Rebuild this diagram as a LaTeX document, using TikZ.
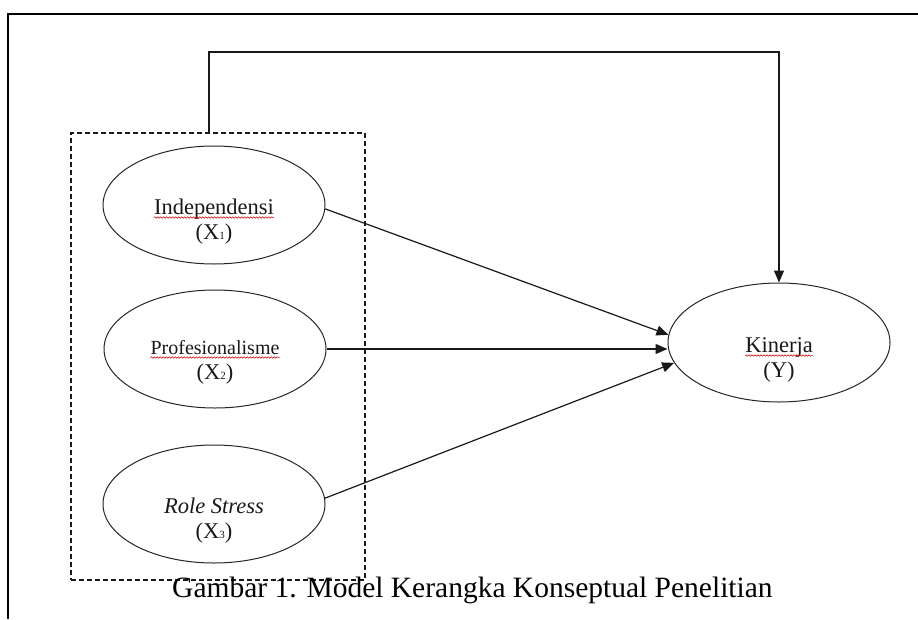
\documentclass[tikz,border=0pt]{standalone}
\usepackage{fontspec}
\setmainfont{Liberation Serif}
\usetikzlibrary{arrows.meta,shapes.geometric,decorations.pathmorphing}
\newcommand{\smallsub}[1]{\raisebox{-0.5pt}{\fontsize{11}{11}\selectfont #1}}
\begin{document}
\begin{tikzpicture}[x=1pt,y=-1pt,
  oval/.style={draw=black!85, line width=1pt, ellipse, minimum width=222pt, minimum height=118pt, inner sep=0pt},
  lbl/.style={font=\fontsize{22.5}{26}\selectfont, inner sep=0pt, anchor=base, text=black!90},
  conn/.style={draw=black!90, line width=1.2pt, -{Triangle[length=12pt,width=10pt]}},
  squig/.style={draw=red!80!black, line width=0.5pt, decorate, decoration={snake, amplitude=0.8pt, segment length=3pt}},
  dashbox/.style={draw=black!90, line width=1.1pt, dash pattern=on 5pt off 3pt, minimum width=294pt, minimum height=447pt, inner sep=0pt}]
\useasboundingbox (0,0) rectangle (918,619);
% outer frame
\draw[line width=2pt] (8,619) -- (8,14) -- (918,14);
% dashed group box
\node[dashbox] (box) at (218,356.5) {};
% ellipses
\node[oval] (e1) at (214,205) {};
\node[oval] (e2) at (215,349) {};
\node[oval] (e3) at (214,504) {};
\node[oval, minimum height=119pt] (k) at (779,342.5) {};
% labels
\node[lbl] (t1a) at ([yshift=-9pt]e1.center) {Independensi};
\node[lbl] (t1b) at ([yshift=-34pt]e1.center) {(X\smallsub{1})};
\node[lbl, font=\fontsize{20}{24}\selectfont] (t2a) at ([yshift=-5pt]e2.center) {Profesionalisme};
\node[lbl] (t2b) at ([yshift=-30pt]e2.center) {(X\smallsub{2})};
\node[lbl] (t3a) at ([yshift=-9pt]e3.center) {\itshape Role Stress};
\node[lbl] (t3b) at ([yshift=-34pt]e3.center) {(X\smallsub{3})};
\node[lbl] (tka) at ([yshift=-9.5pt]k.center) {Kinerja};
\node[lbl] (tkb) at ([yshift=-34.5pt]k.center) {(Y)};
% spell-check squiggles
\draw[squig] ([yshift=-3.5pt]t1a.base west) -- ([yshift=-3.5pt]t1a.base east);
\draw[squig] ([yshift=-3.5pt]t2a.base west) -- ([yshift=-3.5pt]t2a.base east);
\draw[squig] ([yshift=-3.5pt]tka.base west) -- ([yshift=-3.5pt]tka.base east);
% connectors
\draw[conn] (e1.-2) -- (k.176);
\draw[conn] (e2.east) -- (k.west |- e2.east);
\draw[conn] (e3.3) -- (k.191);
\coordinate (b1) at (209,52);
\coordinate (b2) at (k.north |- b1);
\draw[conn] (b1 |- box.north) -- (b1) -- (b2) -- (k.north);
% caption
\node[font=\fontsize{29.5}{34}\selectfont, anchor=base west, inner sep=0pt] (cap) at (172,597) {Gambar 1. Model Kerangka Konseptual Penelitian};
\end{tikzpicture}
\end{document}
